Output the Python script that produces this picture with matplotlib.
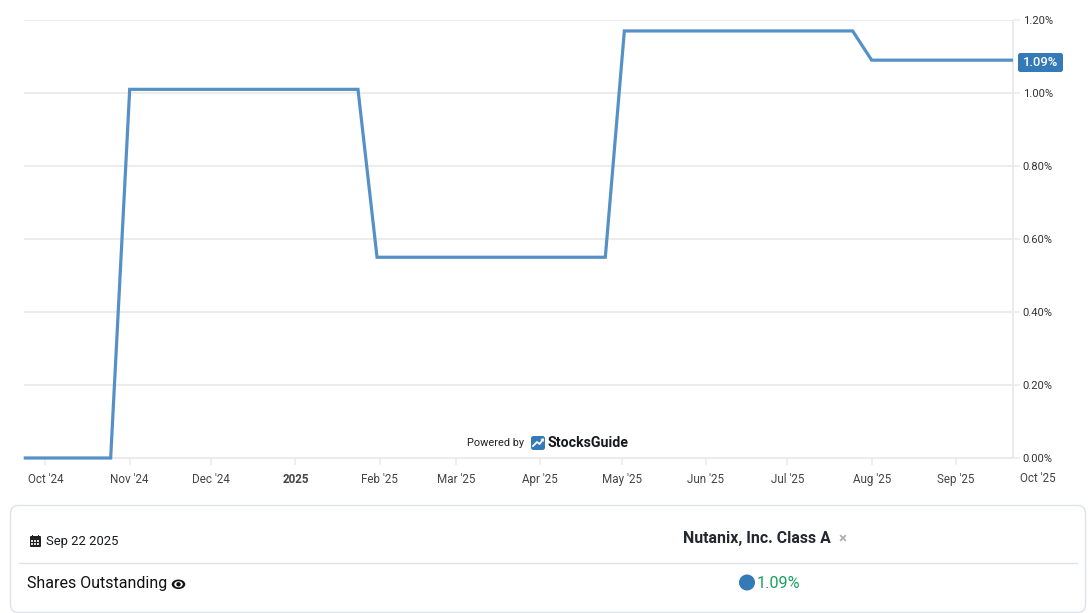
import matplotlib
matplotlib.use("Agg")
import matplotlib.pyplot as plt
import matplotlib.dates as mdates
from matplotlib.patches import FancyBboxPatch, Circle, Ellipse, Rectangle, Polygon
from datetime import datetime as D

plt.rcParams['font.family'] = ['Roboto', 'DejaVu Sans']

dates = [D(2024,9,23), D(2024,10,25), D(2024,11,1), D(2025,1,24), D(2025,1,31),
         D(2025,4,25), D(2025,5,2), D(2025,7,25), D(2025,8,1), D(2025,9,22)]
values = [0.0, 0.0, 1.01, 1.01, 0.55, 0.55, 1.17, 1.17, 1.09, 1.09]
y_ticks = [0.0, 0.2, 0.4, 0.6, 0.8, 1.0, 1.2]
x_tick_dates = [D(2024,10,1), D(2024,11,1), D(2024,12,1), D(2025,1,1), D(2025,2,1), D(2025,3,1),
                D(2025,4,1), D(2025,5,1), D(2025,6,1), D(2025,7,1), D(2025,8,1), D(2025,9,1)]
x_tick_labels = ["Oct '24", "Nov '24", "Dec '24", "2025", "Feb '25", "Mar '25",
                 "Apr '25", "May '25", "Jun '25", "Jul '25", "Aug '25", "Sep '25"]
last_tick_date, last_tick_label = D(2025,10,1), "Oct '25"
series_name = "Shares Outstanding"
company = "Nutanix, Inc. Class A"
hover_date = "Sep 22 2025"
hover_value = "1.09%"

W, H = 1090, 613
LINE = '#5591c7'; BLUE = '#337ab7'; GRID = '#ebebeb'; TXT = '#333333'
fig = plt.figure(figsize=(W/100, H/100), dpi=100, facecolor='white')
L, R, T, B = 23.7, 1013, 20, 458
ax = fig.add_axes([L/W, 1-B/H, (R-L)/W, (B-T)/H])
ax.set_xlim(dates[0], dates[-1])
ax.set_ylim(0, 1.2)
for s in ['top', 'left']:
    ax.spines[s].set_visible(False)
for s in ['bottom', 'right']:
    ax.spines[s].set_color(GRID)
    ax.spines[s].set_linewidth(1.4)
    ax.spines[s].set_capstyle('butt')
ax.yaxis.tick_right()
ax.set_yticks(y_ticks)
ax.set_yticklabels([f"{v:.2f}%" for v in y_ticks], fontsize=8.1, color=TXT)
ax.tick_params(axis='y', length=5, width=1.1, color=GRID, pad=2.0)
ax.set_xticks(x_tick_dates)
ax.set_xticklabels(x_tick_labels, fontsize=8.4, color='#444444')
ax.tick_params(axis='x', length=5, width=1.1, color=GRID, pad=5.5)
ax.get_xticklabels()[3].set_fontweight('bold')
ax.grid(axis='y', color=GRID, lw=1.3)
ax.set_axisbelow(True)
ax.plot(dates, values, color=LINE, lw=2.3, solid_joinstyle='miter', solid_capstyle='butt',
        clip_on=False, zorder=3)
ax.text(mdates.date2num(last_tick_date), -0.0555, last_tick_label, ha='center', va='center',
        fontsize=8.4, color='#444444', clip_on=False)

# overlay in pixel coordinates
ov = fig.add_axes([0, 0, 1, 1], facecolor='none')
ov.set_xlim(0, W); ov.set_ylim(H, 0); ov.axis('off')

# last value flag
ov.add_patch(FancyBboxPatch((1018, 53), 45, 19, boxstyle="round,pad=0,rounding_size=2.5", fc=BLUE, ec='none'))
ov.text(1040.5, 63, hover_value, color='white', fontsize=9.4, fontweight='medium', ha='center', va='center')

# credit
ov.text(496, 443, "Powered by", fontsize=7.9, color='#222222', ha='center', va='center')
ov.add_patch(FancyBboxPatch((531, 436), 14, 14, boxstyle="round,pad=0,rounding_size=2.5", fc=BLUE, ec='none'))
ov.plot([533, 537, 539.5, 543], [446, 442, 444, 439.5], color='white', lw=1.3)
ov.add_patch(Polygon([[540.5, 439], [544, 438.5], [543.5, 442]], fc='white', ec='none'))
ov.text(548, 443, "StocksGuide", fontsize=10.2, fontweight='bold', color='#16181d', ha='left', va='center')

# tooltip panel
ov.add_patch(FancyBboxPatch((10.5, 505.5), 1075, 107, boxstyle="round,pad=0,rounding_size=8", fc='white', ec='#dfe2e8', lw=1))
ov.plot([19, 1077], [562.5, 562.5], color='#dfe2e8', lw=1)

# calendar icon
ov.add_patch(FancyBboxPatch((30, 536), 11, 11, boxstyle="round,pad=0,rounding_size=1", fc='#222222', ec='none'))
for x_ in (32.5, 38.5):
    ov.add_patch(Rectangle((x_-0.6, 534.5), 1.2, 3, fc='#222222', ec='none'))
for x_ in (31.3, 34.1, 36.9):
    for y_ in (540.3, 543.3):
        ov.add_patch(Rectangle((x_, y_), 2, 2, fc='white', ec='none', alpha=0.85))
ov.text(46, 541, hover_date, fontsize=9.4, color='#16181d', ha='left', va='center')

ov.text(27, 583.5, series_name, fontsize=11.5, color='#111111', ha='left', va='center')
# eye icon
ov.add_patch(Ellipse((178.5, 584.3), 13.5, 9.5, fc='#111111', ec='none'))
ov.add_patch(Ellipse((178.5, 584.3), 8.5, 6.2, fc='white', ec='none'))
ov.add_patch(Circle((178.5, 584.3), 2.2, fc='#111111', ec='none'))

ov.text(757, 538, company, fontsize=11.4, fontweight='bold', color='#23272e', ha='center', va='center')
ov.text(843, 538, "×", fontsize=11, color='#a9afb8', fontweight='bold', ha='center', va='center')
ov.add_patch(Circle((747, 582.5), 8, fc=BLUE, ec='none'))
ov.text(757, 583, hover_value, fontsize=11.7, color='#1aa260', ha='left', va='center')

fig.savefig('out.png', dpi=100, facecolor='white')
